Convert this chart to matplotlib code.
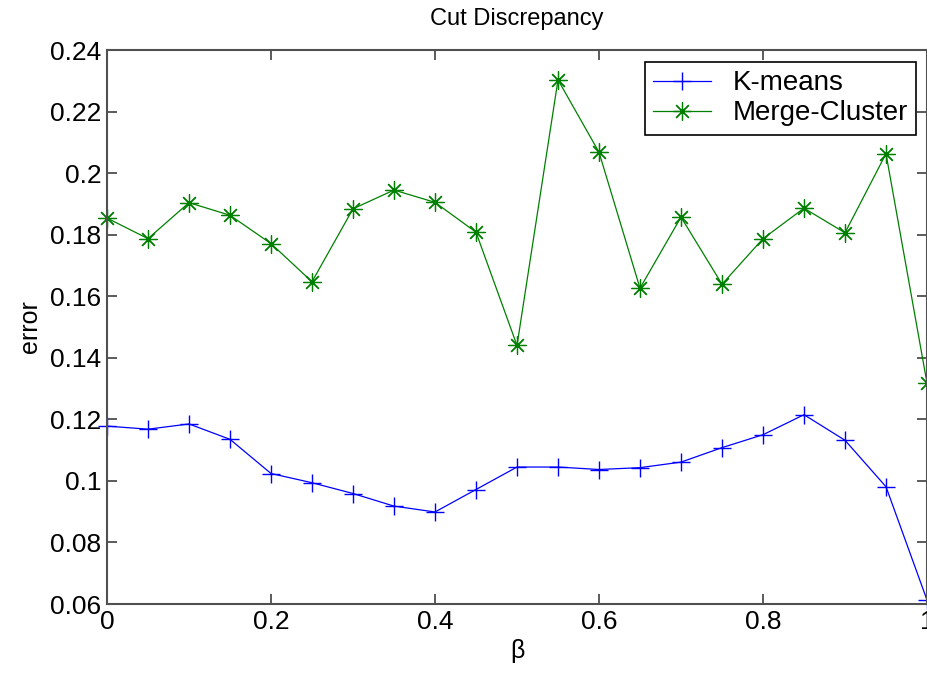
import matplotlib
matplotlib.use("Agg")
import matplotlib.pyplot as plt
import numpy as np

plt.rcParams['font.family'] = ['Liberation Sans', 'DejaVu Sans']

# beta values and errors
beta = [0.0, 0.05, 0.1, 0.15, 0.2, 0.25, 0.3, 0.35, 0.4, 0.45, 0.5,
        0.55, 0.6, 0.65, 0.7, 0.75, 0.8, 0.85, 0.9, 0.95, 1.0]
kmeans = [0.1178, 0.1168, 0.1185, 0.1135, 0.1024, 0.0994, 0.0959, 0.0918, 0.0899, 0.0972, 0.1045,
          0.1045, 0.1037, 0.1043, 0.1061, 0.1108, 0.1150, 0.1215, 0.1132, 0.0981, 0.0613]
merge_cluster = [0.1854, 0.1787, 0.1904, 0.1863, 0.1771, 0.1647, 0.1884, 0.1945, 0.1905, 0.1808, 0.1440,
                 0.2303, 0.2068, 0.1626, 0.1857, 0.1639, 0.1787, 0.1886, 0.1806, 0.2063, 0.1318]
series_names = ["K-means", "Merge-Cluster"]
xticks = [0, 0.2, 0.4, 0.6, 0.8, 1.0]
xtick_labels = ["0", "0.2", "0.4", "0.6", "0.8", "1"]
yticks = [0.06, 0.08, 0.10, 0.12, 0.14, 0.16, 0.18, 0.20, 0.22, 0.24]
ytick_labels = ["0.06", "0.08", "0.1", "0.12", "0.14", "0.16", "0.18", "0.2", "0.22", "0.24"]

fig = plt.figure(figsize=(9.27, 6.78), dpi=100)
ax = fig.add_axes([107 / 927, 1 - 604 / 678, 820 / 927, (604 - 50) / 678])

ax.plot(beta, kmeans, color=(0, 0, 1), lw=0.9, marker='+', markersize=13,
        markeredgewidth=1.0, label=series_names[0], clip_on=False)
ax.plot(beta, merge_cluster, color=(0, 0.5, 0), lw=0.9, marker=(8, 2, 0), markersize=13,
        markeredgewidth=0.9, label=series_names[1], clip_on=False)

ax.set_xlim(0, 1)
ax.set_ylim(0.06, 0.24)
ax.set_xticks(xticks)
ax.set_xticklabels(xtick_labels)
ax.set_yticks(yticks)
ax.set_yticklabels(ytick_labels)

ax.tick_params(direction='in', length=7, width=1.2, color='#404040',
               labelsize=19, top=True, right=True, pad=4)
for s in ax.spines.values():
    s.set_color('#505050')
    s.set_linewidth(1.5)

ax.set_title("Cut Discrepancy", fontsize=17, pad=18)
ax.set_xlabel("β", fontsize=18, labelpad=4)
ax.set_ylabel("error", fontsize=18, labelpad=6)

# legend box in the upper right, like the MATLAB original
leg = ax.legend(loc='upper right', bbox_to_anchor=(916 / 927, 1 - 62 / 678),
                bbox_transform=fig.transFigure, fontsize=20, fancybox=False,
                framealpha=1, edgecolor='black', borderpad=0.3, handlelength=2.1,
                handletextpad=0.75, labelspacing=0.15, borderaxespad=0)
leg.get_frame().set_linewidth(1.2)

fig.savefig("out.png", dpi=100)
